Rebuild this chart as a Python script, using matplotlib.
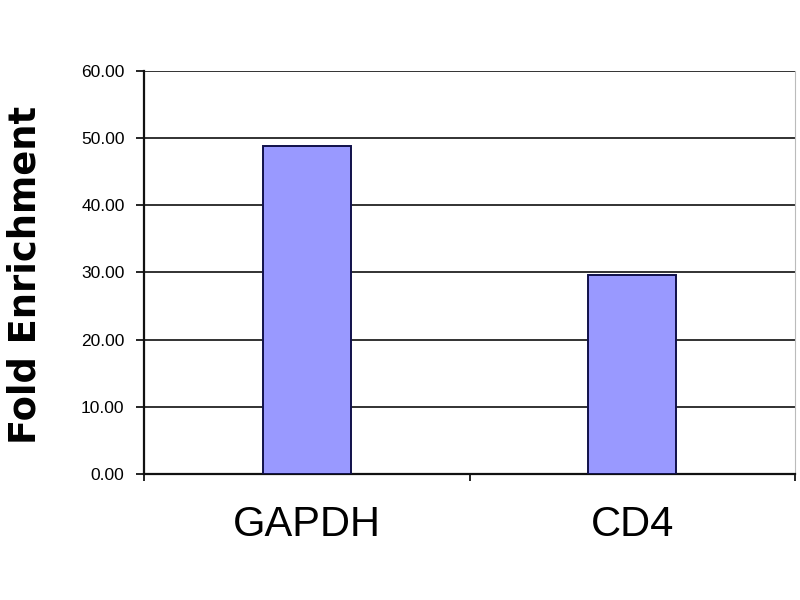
import matplotlib.pyplot as plt
import numpy as np

# data
genes = ["GAPDH", "CD4"]
fold = [48.8, 29.6]
yticks = [0, 10, 20, 30, 40, 50, 60]

fig = plt.figure(figsize=(8, 6), dpi=100)
ax = fig.add_axes([0.18, 0.21, 0.814, 0.6717])

x = np.arange(len(genes))
ax.bar(x, fold, width=0.27, color="#9999ff", edgecolor="#10104a",
       linewidth=1.4, zorder=3)

ax.set_xlim(-0.5, len(genes) - 0.5)
ax.set_ylim(0, 60)
ax.set_yticks(yticks)
ax.set_yticklabels([f"{v:.2f}" for v in yticks], family="Liberation Sans",
                   fontsize=12.5)
ax.yaxis.grid(True, color="#222222", linewidth=1.3, zorder=1)
ax.set_axisbelow(True)

ax.set_xticks(x)
ax.set_xticklabels(genes, family="Liberation Sans", fontsize=30)
ax.set_xticks(np.arange(-0.5, len(genes), 1.0), minor=True)
ax.tick_params(axis="x", which="major", length=0, pad=22)
ax.tick_params(axis="x", which="minor", length=5, width=1.2, direction="out")
ax.tick_params(axis="y", length=6, width=1.2, pad=8)

for s in ["left", "bottom"]:
    ax.spines[s].set_linewidth(1.6)
    ax.spines[s].set_color("#111111")
ax.spines["top"].set_visible(False)
ax.spines["right"].set_color("#bbbbbb")
ax.spines["right"].set_linewidth(0.8)

fig.text(0.031, 0.541, "Fold Enrichment", rotation=90, ha="center", va="center",
         fontsize=26.5, fontweight="bold", family="DejaVu Sans")

fig.savefig("out.png", dpi=100)
